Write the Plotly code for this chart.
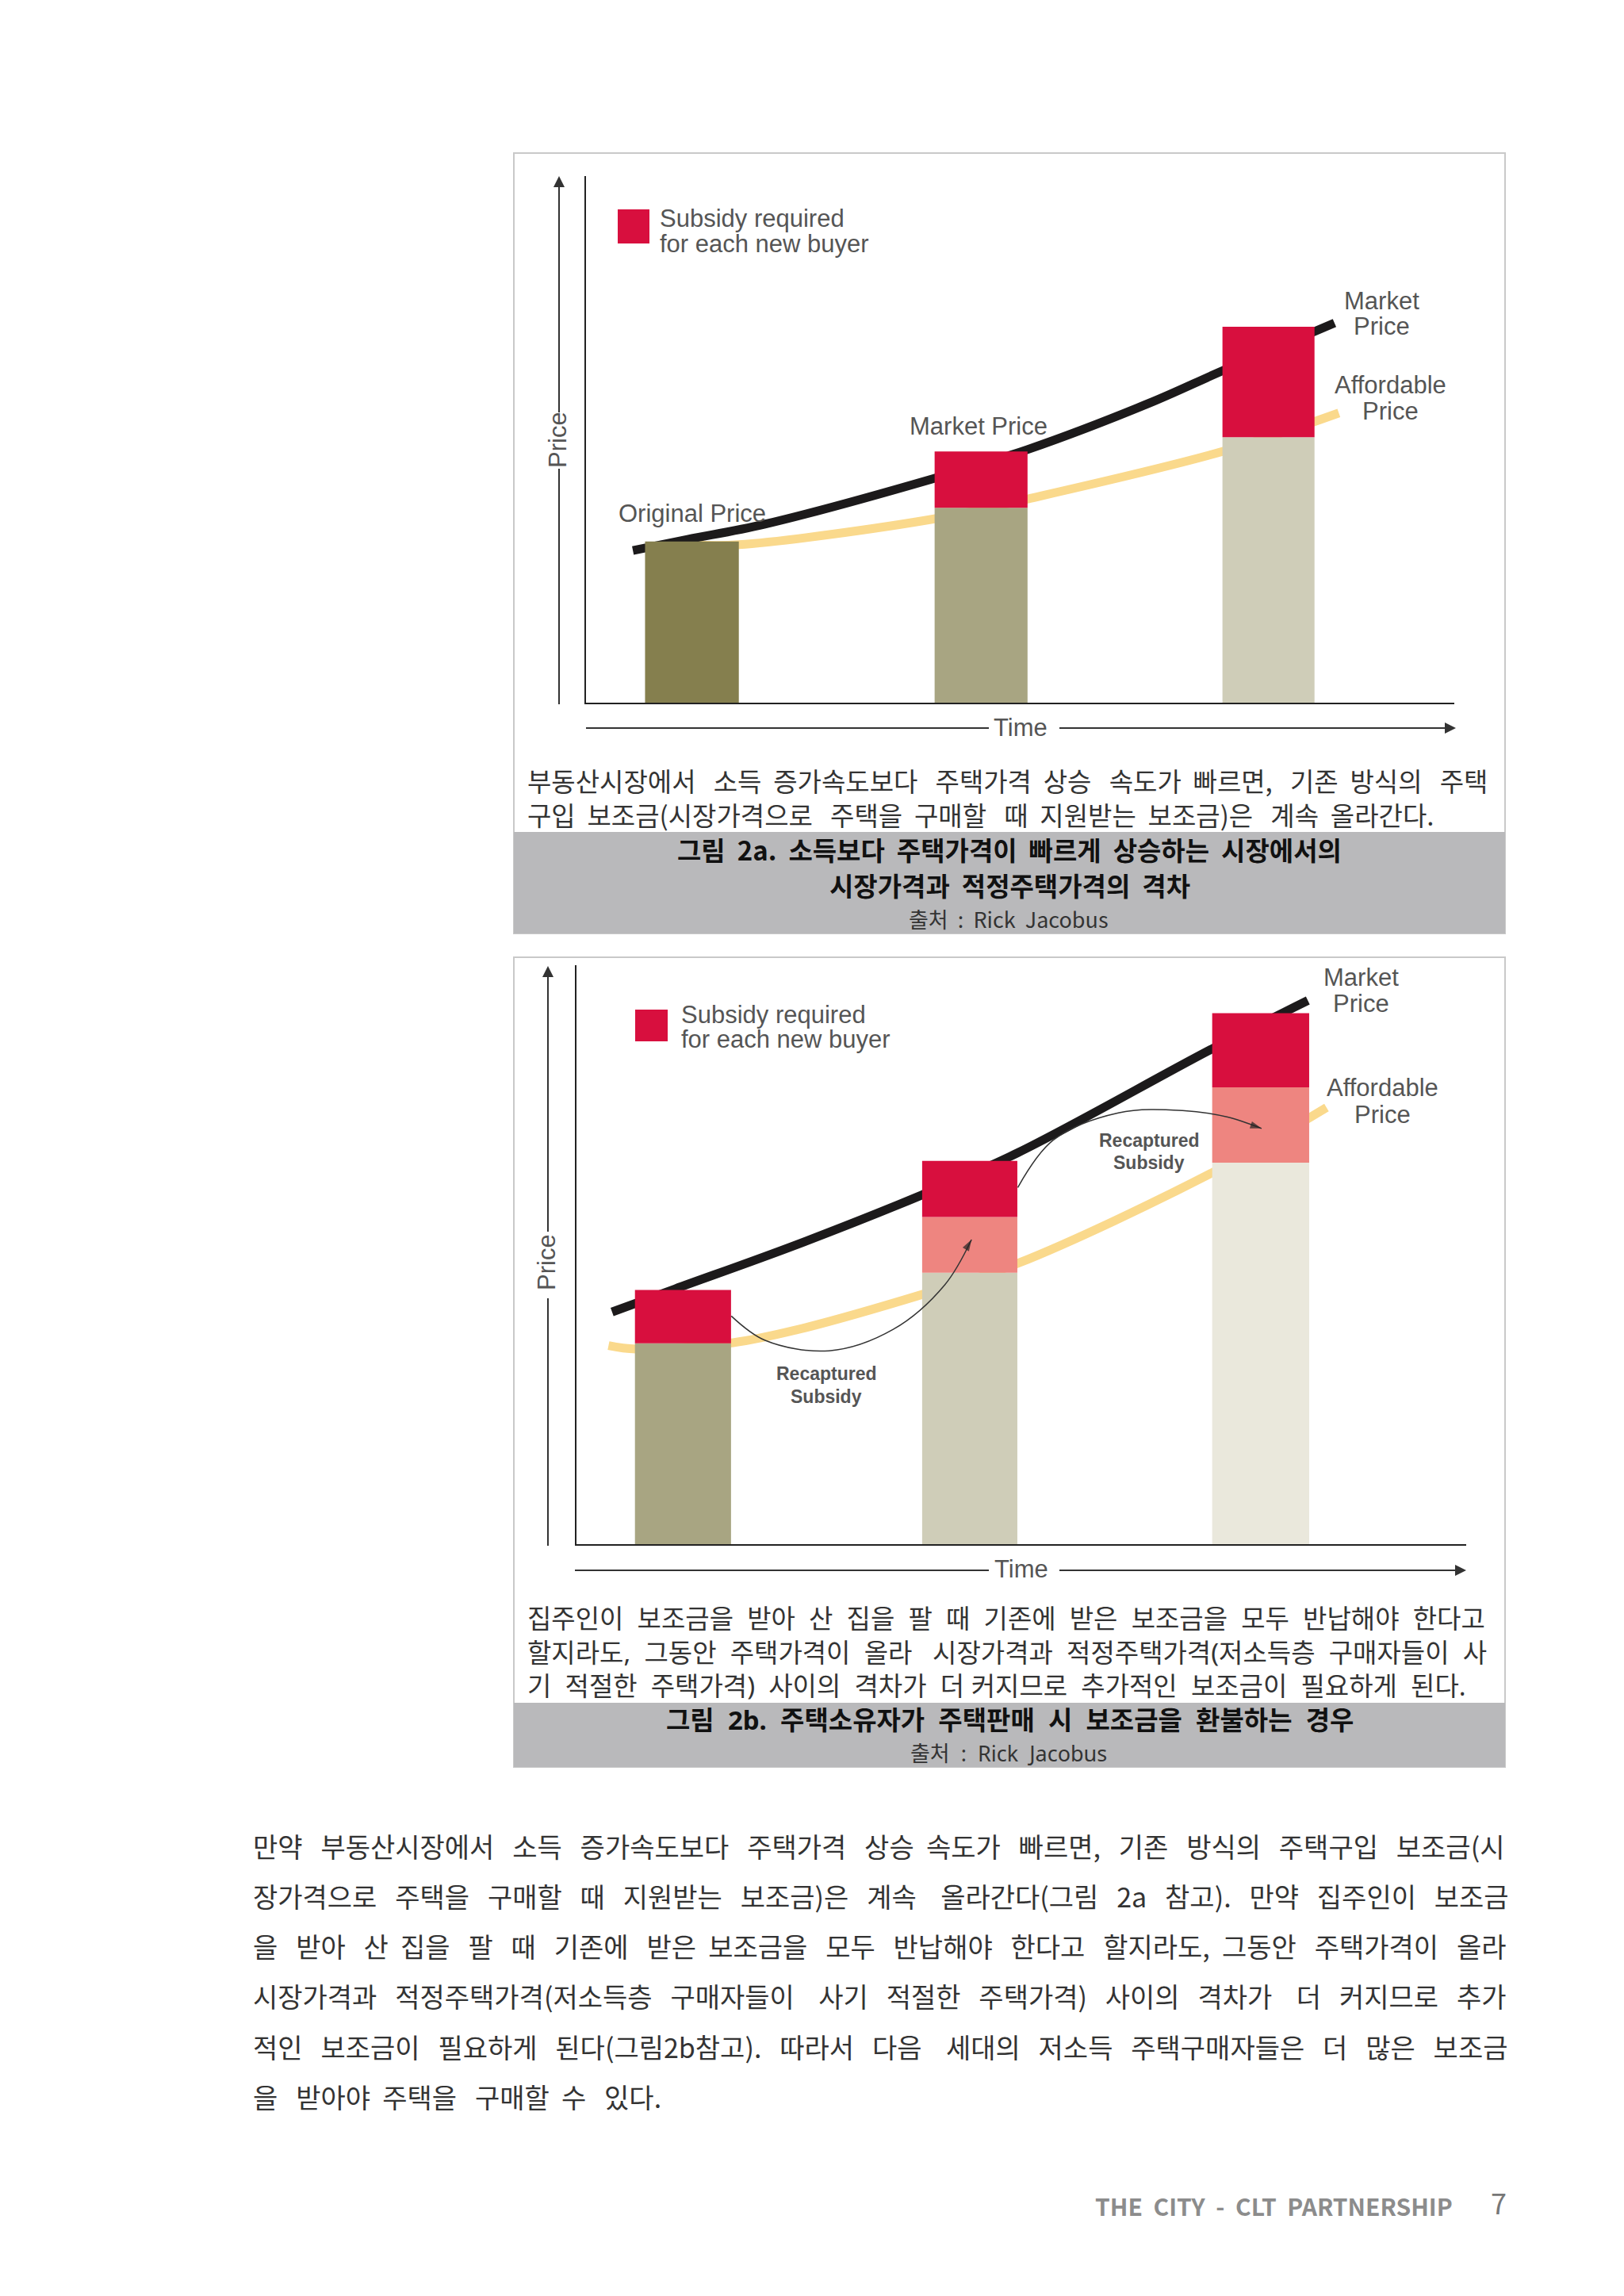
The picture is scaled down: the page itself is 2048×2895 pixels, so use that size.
"""
그림 2a / 2b : 시장가격과 적정주택가격의 격차 (Plotly)
"""

import plotly.graph_objects as go

# 브라우저 기본 body 여백 8px 만큼 안쪽에 그려진다
PAGE_MARGIN = 8
FIG_W = 2048 - 2 * PAGE_MARGIN
FIG_H = 2895 - 2 * PAGE_MARGIN
KR = "Noto Sans CJK KR"
# 줄 간격이 좁은 2b 캡션용 (라틴 글꼴 기준으로 글자 상자가 낮아진다)
KR_TIGHT = "Noto Sans, Noto Sans CJK KR"
EN = "Liberation Sans"

# ---------------------------------------------------------------------------
# 데이터 (그림에서 읽은 값, 가로 0-100 / 세로 0-100)
# ---------------------------------------------------------------------------

a_bar_time = [12.2, 45.5, 78.6]
a_bar_width = [10.8, 10.7, 10.6]
a_affordable_top = [30.6, 37.0, 50.4]
a_market_top = [30.6, 47.7, 71.4]
a_bar_colors = ["#857f4e", "#a8a582", "#cfcdb8"]

a_market_x = [5.4, 11.7, 20.6, 39.7, 50.9, 64.9, 73.4, 86.2]
a_market_y = [28.9, 31.0, 33.9, 42.4, 48.1, 56.9, 63.1, 72.1]
a_afford_x = [12.2, 17.6, 40.1, 50.9, 73.3, 86.7]
a_afford_y = [30.0, 30.0, 34.9, 38.7, 47.7, 55.0]

b_bar_time = [11.97, 44.2, 76.9]
b_bar_width = [10.8, 10.7, 10.9]
b_base_top = [34.7, 46.9, 65.9]
b_recaptured_top = [34.7, 56.5, 78.9]
b_market_top = [43.9, 66.2, 91.7]
b_bar_colors = ["#a8a582", "#cfcdb8", "#eae8dc"]

b_market_x = [4.0, 11.1, 24.7, 38.8, 49.6, 71.5, 82.2]
b_market_y = [40.1, 44.1, 51.7, 60.3, 67.6, 85.6, 93.9]
b_afford_x = [3.6, 6.7, 17.6, 24.7, 38.8, 49.6, 71.5, 84.3]
b_afford_y = [34.3, 33.7, 34.8, 37.0, 43.1, 48.5, 64.2, 75.4]

b_arrow1_x = [17.4, 21.2, 28.4, 35.6, 41.4, 44.4]
b_arrow1_y = [39.4, 35.2, 33.4, 37.1, 44.8, 52.6]
b_arrow2_x = [49.6, 53.6, 60.9, 68.1, 73.1, 77.0]
b_arrow2_y = [61.6, 69.8, 74.5, 74.9, 73.8, 71.8]

# 문단 텍스트
a_caption = [
    "부동산시장에서 소득 증가속도보다 주택가격 상승 속도가 빠르면, 기존 방식의 주택",
    "구입 보조금(시장가격으로 주택을 구매할 때 지원받는 보조금)은 계속 올라간다.",
]
a_title = [
    "그림 2a. 소득보다 주택가격이 빠르게 상승하는 시장에서의",
    "시장가격과 적정주택가격의 격차",
]
b_caption = [
    "집주인이 보조금을 받아 산 집을 팔 때 기존에 받은 보조금을 모두 반납해야 한다고",
    "할지라도, 그동안 주택가격이 올라 시장가격과 적정주택가격(저소득층 구매자들이 사",
    "기 적절한 주택가격) 사이의 격차가 더 커지므로 추가적인 보조금이 필요하게 된다.",
]
b_title = "그림 2b. 주택소유자가 주택판매 시 보조금을 환불하는 경우"
source_text = "출처 : Rick Jacobus"
body_lines = [
    "만약 부동산시장에서 소득 증가속도보다 주택가격 상승 속도가 빠르면, 기존 방식의 주택구입 보조금(시",
    "장가격으로 주택을 구매할 때 지원받는 보조금)은 계속 올라간다(그림 2a 참고). 만약 집주인이 보조금",
    "을 받아 산 집을 팔 때 기존에 받은 보조금을 모두 반납해야 한다고 할지라도, 그동안 주택가격이 올라",
    "시장가격과 적정주택가격(저소득층 구매자들이 사기 적절한 주택가격) 사이의 격차가 더 커지므로 추가",
    "적인 보조금이 필요하게 된다(그림2b참고). 따라서 다음 세대의 저소득 주택구매자들은 더 많은 보조금",
    "을 받아야 주택을 구매할 수 있다.",
]
footer_text = "THE CITY - CLT PARTNERSHIP"
page_number = "7"


# ---------------------------------------------------------------------------
# 보조 함수
# ---------------------------------------------------------------------------

def px(x):
    return (x - PAGE_MARGIN) / FIG_W


def py(y):
    return 1 - (y - PAGE_MARGIN) / FIG_H


def char_em(c):
    if "\uac00" <= c <= "\ud7a3":
        return 0.92
    if c in ".,:()":
        return 0.33
    if c == " ":
        return 0.224
    return 0.56


def justify(line, size, width, space_em=0.224):
    """공백 개수를 나눠서 줄 폭을 width에 맞춘다."""
    words = line.split(" ")
    gaps = len(words) - 1
    natural = sum(char_em(c) for w in words for c in w) * size
    total = round((width - natural) / (space_em * size))
    total = max(total, gaps)
    out = words[0]
    used = 0
    for i, w in enumerate(words[1:], start=1):
        n = round(total * i / gaps) - used
        used += n
        out += " " * n + w
    return out


annotations = []
shapes = []


def note(x, y, text, size, color="#555555", family=EN, anchor="center", angle=0):
    annotations.append(dict(
        x=px(x), y=py(y), xref="paper", yref="paper", text=text, showarrow=False,
        xanchor=anchor, yanchor="middle", textangle=angle,
        font=dict(size=size, color=color, family=family),
    ))


def rect(x0, y0, x1, y1, fill=None, line=None, width=0):
    shapes.append(dict(
        type="rect", xref="paper", yref="paper", layer="below",
        x0=px(x0), x1=px(x1), y0=py(y0), y1=py(y1),
        fillcolor=fill, line=dict(color=line, width=width),
    ))


def seg(x0, y0, x1, y1, color="#333333", width=2):
    shapes.append(dict(
        type="line", xref="paper", yref="paper",
        x0=px(x0), x1=px(x1), y0=py(y0), y1=py(y1),
        line=dict(color=color, width=width),
    ))


def arrow_head(x, y, dx, dy):
    # 화살촉만 그린다, 몸통은 seg 로
    annotations.append(dict(
        x=px(x), y=py(y), xref="paper", yref="paper", text="",
        showarrow=True, ax=dx, ay=dy, axref="pixel", ayref="pixel",
        arrowhead=2, arrowsize=1.4, arrowwidth=2, arrowcolor="#333333",
    ))


def add_stack(fig, x, width, base, top, color, xa, ya):
    fig.add_trace(go.Bar(
        x=x, y=[t - b for t, b in zip(top, base)], base=base, width=width,
        marker=dict(color=color, line=dict(width=0)), showlegend=False,
        xaxis=xa, yaxis=ya,
    ))


# ---------------------------------------------------------------------------
# 차트
# ---------------------------------------------------------------------------

fig = go.Figure()

# ── 그림 2a : 곡선은 아래 축, 막대는 겹친 축 ──────────────────────
for xs, ys, color in [(a_afford_x, a_afford_y, "#fad98c"), (a_market_x, a_market_y, "#1c1a1b")]:
    fig.add_trace(go.Scatter(
        x=xs, y=ys, mode="lines", line=dict(color=color, width=11, shape="spline"),
        showlegend=False, xaxis="x", yaxis="y",
    ))
add_stack(fig, a_bar_time, a_bar_width, [0, 0, 0], a_affordable_top, a_bar_colors, "x2", "y2")
add_stack(fig, a_bar_time, a_bar_width, a_affordable_top, a_market_top, "#d80f3e", "x2", "y2")

# ── 그림 2b ───────────────────────────────────────────────────────
for xs, ys, color in [(b_afford_x, b_afford_y, "#fad98c"), (b_market_x, b_market_y, "#1c1a1b")]:
    fig.add_trace(go.Scatter(
        x=xs, y=ys, mode="lines", line=dict(color=color, width=11, shape="spline"),
        showlegend=False, xaxis="x3", yaxis="y3",
    ))
add_stack(fig, b_bar_time, b_bar_width, [0, 0, 0], b_base_top, b_bar_colors, "x4", "y4")
add_stack(fig, b_bar_time, b_bar_width, b_base_top, b_recaptured_top, "#ee8580", "x4", "y4")
add_stack(fig, b_bar_time, b_bar_width, b_recaptured_top, b_market_top, "#d80f3e", "x4", "y4")

for xs, ys in [(b_arrow1_x, b_arrow1_y), (b_arrow2_x, b_arrow2_y)]:
    fig.add_trace(go.Scatter(
        x=xs, y=ys, mode="lines+markers",
        line=dict(color="#333333", width=1.5, shape="spline"),
        marker=dict(
            symbol="arrow", angleref="previous", color="#222222", line=dict(width=0),
            size=[0, 0, 0, 0, 0, 15],
        ),
        showlegend=False, xaxis="x4", yaxis="y4",
    ))

# ── 그림 틀, 회색 캡션 ────────────────────────────────────────────
rect(648, 193, 1898, 1177, fill="#ffffff", line="#c9c9c9", width=2)
rect(648, 1049, 1898, 1177, fill="#b9b9bb")
rect(648, 1207, 1898, 2228, fill="#ffffff", line="#c9c9c9", width=2)
rect(648, 2147, 1898, 2228, fill="#b9b9bb")

# 범례 사각형
rect(779, 264, 819, 307, fill="#d80f3e")
rect(801, 1273, 842, 1313, fill="#d80f3e")

# Price / Time 화살표
seg(705, 240, 705, 520)
arrow_head(705, 222, 0, 24)
seg(705, 591, 705, 888)
seg(739, 918, 1247, 918)
seg(1336, 918, 1820, 918)
arrow_head(1836, 918, -24, 0)
seg(691, 1236, 691, 1553)
arrow_head(691, 1218, 0, 24)
seg(691, 1637, 691, 1949)
seg(725, 1980, 1247, 1980)
seg(1336, 1980, 1833, 1980)
arrow_head(1849, 1980, -24, 0)

# ── 그림 안 글자 ──────────────────────────────────────────────────
LABEL = 31
note(703, 555, "Price", LABEL, angle=-90)
note(1287, 917, "Time", LABEL)
note(830, 275, "Subsidy required", LABEL, anchor="left")
note(830, 307, "for each new buyer", LABEL, anchor="left")
note(873, 647, "Original Price", LABEL)
note(1234, 538, "Market Price", LABEL)
note(1742, 379, "Market", LABEL)
note(1742, 411, "Price", LABEL)
note(1753, 485, "Affordable", LABEL)
note(1753, 518, "Price", LABEL)

note(689, 1592, "Price", LABEL, angle=-90)
note(1288, 1978, "Time", LABEL)
note(857, 1279, "Subsidy required", LABEL, anchor="left")
note(857, 1311, "for each new buyer", LABEL, anchor="left")
note(1716, 1232, "Market", LABEL)
note(1716, 1265, "Price", LABEL)
note(1743, 1372, "Affordable", LABEL)
note(1743, 1405, "Price", LABEL)
note(1042, 1732, "<b>Recaptured</b>", 23)
note(1042, 1761, "<b>Subsidy</b>", 23)
note(1449, 1438, "<b>Recaptured</b>", 23)
note(1449, 1466, "<b>Subsidy</b>", 23)

# ── 캡션 글자 ────────────────────────────────────────────────────
CAP = 33
TITLE = 33
note(663, 984, justify(a_caption[0], CAP, 1215), CAP, "#333333", KR, "left")
note(663, 1027, justify(a_caption[1], CAP, 1143), CAP, "#333333", KR, "left")
note(1273, 1071, "<b>" + a_title[0].replace(" ", "  ") + "</b>", TITLE, "#111111", KR)
note(1273, 1116, "<b>" + a_title[1].replace(" ", "  ") + "</b>", TITLE, "#111111", KR)
note(1272, 1158, source_text.replace(" ", "  "), 27, "#333333", KR)

for y, line, w in zip([2040, 2083, 2125], b_caption, [1212, 1212, 1189]):
    note(663, y, justify(line, CAP, w, space_em=0.26), CAP, "#333333", KR_TIGHT, "left")
note(1273, 2168, "<b>" + b_title.replace(" ", "  ") + "</b>", TITLE, "#111111", KR_TIGHT)
note(1272, 2210, source_text.replace(" ", "  "), 27, "#333333", KR_TIGHT)

# ── 본문 ─────────────────────────────────────────────────────────
BODY = 34
for y, line in zip([2327, 2390, 2453, 2516, 2580, 2643], body_lines):
    width = 1583 if line is not body_lines[-1] else 515
    note(317, y, justify(line, BODY, width), BODY, "#333333", KR, "left")

note(1606, 2781, "<b>" + footer_text.replace(" ", "  ") + "</b>", 30, "#8c8c8c", KR)
note(1890, 2776, page_number, 36, "#777777", KR)


# ── 레이아웃 ─────────────────────────────────────────────────────
def x_axis(x0, x1, **kw):
    return dict(
        domain=[px(x0), px(x1)], range=[0, 100], showgrid=False, zeroline=False,
        showticklabels=False, ticks="", fixedrange=True, **kw,
    )


def y_axis(y0, y1, **kw):
    return dict(
        domain=[py(y1), py(y0)], range=[0, 100], showgrid=False, zeroline=False,
        showticklabels=False, ticks="", fixedrange=True, **kw,
    )


fig.update_layout(
    width=FIG_W,
    height=FIG_H,
    margin=dict(l=0, r=0, t=0, b=0),
    paper_bgcolor="#ffffff",
    plot_bgcolor="rgba(0,0,0,0)",
    barmode="overlay",
    xaxis=x_axis(739, 1834, anchor="y", showline=True, linecolor="#222222", linewidth=2),
    yaxis=y_axis(222, 886, anchor="x", showline=True, linecolor="#222222", linewidth=2),
    xaxis2=x_axis(739, 1834, anchor="y2", overlaying="x", visible=False),
    yaxis2=y_axis(222, 886, anchor="x2", overlaying="y", visible=False),
    xaxis3=x_axis(727, 1849, anchor="y3", showline=True, linecolor="#222222", linewidth=2),
    yaxis3=y_axis(1217, 1947, anchor="x3", showline=True, linecolor="#222222", linewidth=2),
    xaxis4=x_axis(727, 1849, anchor="y4", overlaying="x3", visible=False),
    yaxis4=y_axis(1217, 1947, anchor="x4", overlaying="y3", visible=False),
    annotations=annotations,
    shapes=shapes,
)

fig.write_html("out.html")
